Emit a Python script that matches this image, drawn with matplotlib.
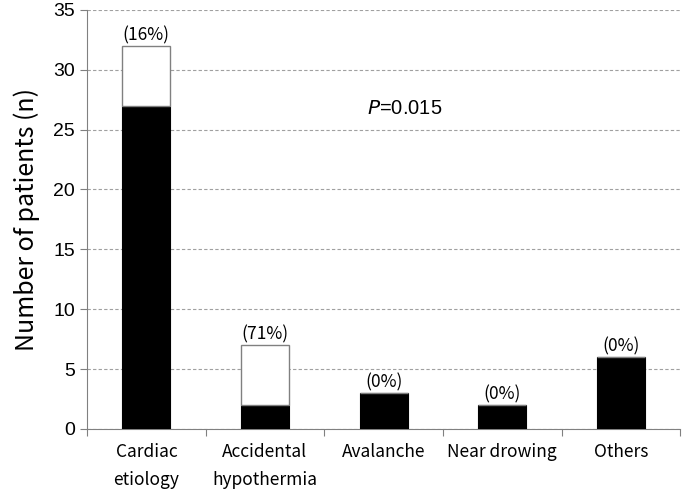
import matplotlib
matplotlib.use('Agg')
import matplotlib.pyplot as plt
import numpy as np

# Dados
categorias = ['Cardiac\netiology', 'Accidental\nhypothermia', 'Avalanche', 'Near drowing', 'Others']
sobreviventes = [27, 2, 3, 2, 6]     # parte preta
nao_sobrev = [5, 5, 0, 0, 0]         # parte branca
porcentagens = ['(16%)', '(71%)', '(0%)', '(0%)', '(0%)']
yticks = [0, 5, 10, 15, 20, 25, 30, 35]

fonte_jp = ['Noto Sans CJK JP', 'DejaVu Sans']

fig = plt.figure(figsize=(6.85, 4.93), dpi=100)
ax = fig.add_axes([0.127, 0.130, 0.866, 0.850])

x = np.arange(len(categorias))
largura = 0.405

ax.bar(x, sobreviventes, width=largura, color='black', edgecolor='black', linewidth=0.8, zorder=3)
ax.bar(x, nao_sobrev, width=largura, bottom=sobreviventes, color='white',
       edgecolor='#808080', linewidth=1.0, zorder=3)

totais = np.array(sobreviventes) + np.array(nao_sobrev)
for i in range(len(categorias)):
    ax.annotate(porcentagens[i], (x[i], totais[i]), xytext=(0, 1), textcoords='offset points',
                ha='center', va='bottom', fontsize=12.5, family=fonte_jp)

ax.text(1.86, 26.8, r'$\it{P}$=0.015', fontsize=14.5, family='Liberation Sans', va='center', ha='left')

ax.set_xlim(-0.5, len(categorias) - 0.5)
ax.set_ylim(0, 35)
ax.set_yticks(yticks)
ax.set_yticklabels([str(v) for v in yticks], fontsize=14, family='Liberation Sans')

# ticks do eixo x nos limites entre categorias
ax.set_xticks(np.arange(-0.5, len(categorias)), minor=False)
ax.set_xticklabels([''] * (len(categorias) + 1))
ax.set_xticks(x, minor=True)
ax.set_xticklabels(categorias, minor=True, fontsize=12.5, family=fonte_jp, linespacing=1.75)
ax.tick_params(axis='x', which='minor', length=0, pad=10)
ax.tick_params(axis='x', which='major', length=5, color='#808080', direction='out')
ax.tick_params(axis='y', length=5, color='#808080', direction='out')

ax.set_ylabel('Number of patients (n)', fontsize=18, family=fonte_jp, labelpad=10)

ax.yaxis.grid(True, linestyle=(0, (3, 2)), color='#a0a0a0', linewidth=0.8, zorder=0)
ax.set_axisbelow(True)
for lado in ['top', 'right']:
    ax.spines[lado].set_visible(False)
ax.spines['left'].set_color('#808080')
ax.spines['bottom'].set_color('#808080')

fig.savefig('out.png', dpi=100)
